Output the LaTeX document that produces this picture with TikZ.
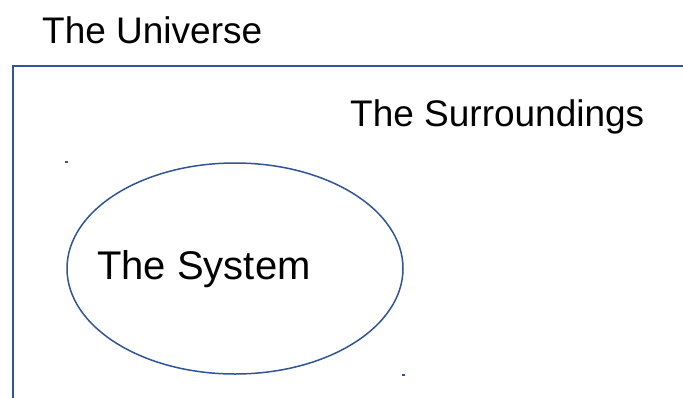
\documentclass[tikz,border=0pt]{standalone}
\usepackage{fontspec}
\setmainfont{Liberation Sans}
\usetikzlibrary{positioning, calc, shapes.geometric}
\definecolor{edgeblue}{HTML}{2F5597}
\tikzset{
  region/.style={draw=edgeblue, line width=1.5pt},
  lbl/.style={inner sep=0pt, anchor=base west, font=\fontsize{37}{44}\selectfont},
  handle/.style={fill=edgeblue, inner sep=0pt, minimum width=3pt, minimum height=2pt},
}
\begin{document}
\begin{tikzpicture}[x=1pt, y=-1pt]
  \useasboundingbox (0,0) rectangle (683,397);
  \clip (0,0) rectangle (683,397);

  % Universe box -- open towards the right and the bottom
  \coordinate (ucorner) at (13,66);
  \draw[region] (ucorner |- 0,420) -- (ucorner) -- (ucorner -| 720,0);
  \node[lbl] (universe) at (42,43) {The Universe};
  \node[lbl] (surround) at (350,126) {The Surroundings};

  % System ellipse
  \node[ellipse, region, minimum width=336pt, minimum height=211pt,
        inner sep=0pt] (sysbound) at (235,268.5) {};
  \node[lbl, font=\fontsize{40}{48}\selectfont] (system) at (97,279) {The System};

  % selection handles left over at the ellipse's corners
  \node[handle] (hnw) at (sysbound.west |- sysbound.north) {};
  \node[handle] (hse) at (sysbound.east |- sysbound.south) {};
\end{tikzpicture}
\end{document}
